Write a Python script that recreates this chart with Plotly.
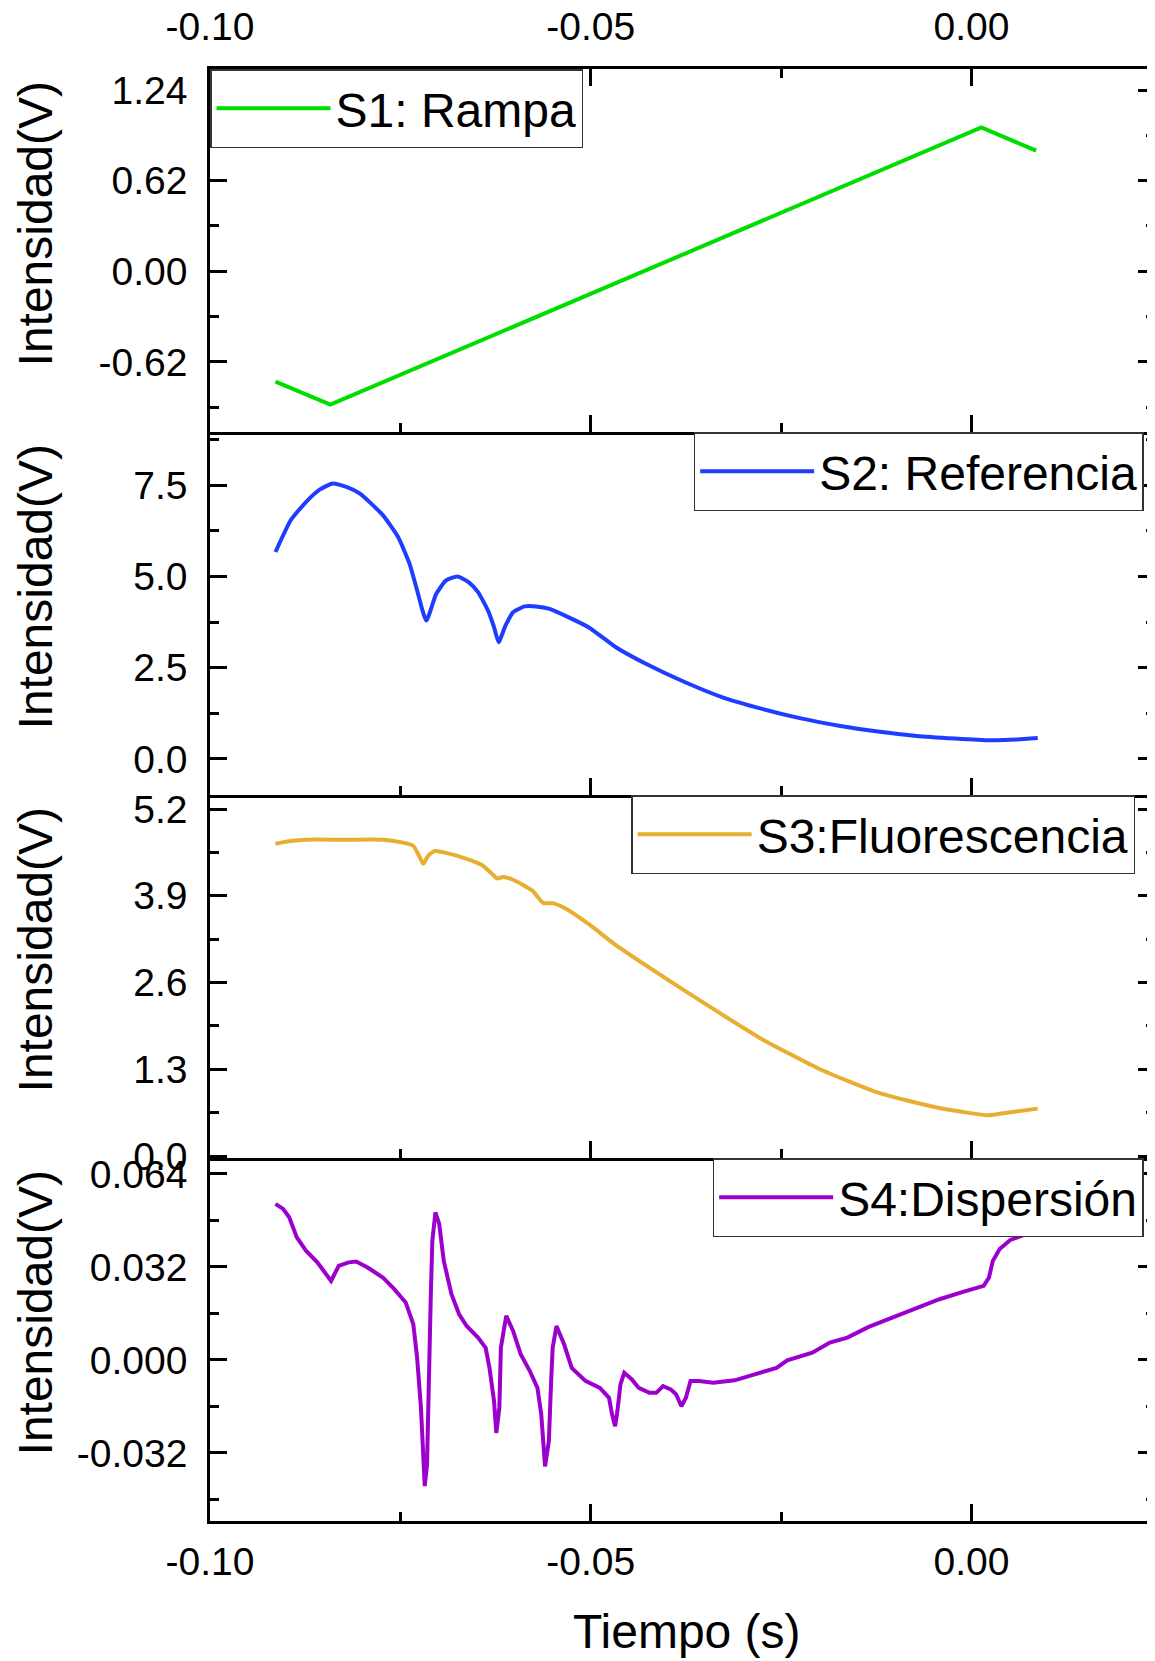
import plotly.graph_objects as go
from plotly.subplots import make_subplots

# ---------------- data ----------------
S1_T = [-0.0914, -0.0842, 0.0013, 0.0085]
S1_V = [-0.755, -0.913, 0.984, 0.825]

S2_T = [-0.0914, -0.0894, -0.0874, -0.0856, -0.0839, -0.0820, -0.0803, -0.0773, -0.0753, -0.0738,
        -0.0728, -0.0716, -0.0703, -0.0690, -0.0675, -0.0660, -0.0648, -0.0635, -0.0627, -0.0621,
        -0.0612, -0.0602, -0.0587, -0.0572, -0.0554, -0.0503, -0.0467, -0.0427, -0.0376, -0.0326,
        -0.0275, -0.0224, -0.0174, -0.0123, -0.0072, -0.0022, 0.0024, 0.0060, 0.0087]
S2_V = [5.67, 6.54, 7.04, 7.38, 7.55, 7.45, 7.27, 6.68, 6.08, 5.35,
        4.62, 3.79, 4.52, 4.89, 5.00, 4.84, 4.57, 4.07, 3.61, 3.20,
        3.65, 4.02, 4.18, 4.18, 4.11, 3.61, 3.06, 2.60, 2.10, 1.68,
        1.37, 1.11, 0.91, 0.75, 0.63, 0.56, 0.51, 0.53, 0.57]

S3_T = [-0.0914, -0.0894, -0.0874, -0.0824, -0.0773, -0.0748, -0.0733, -0.0726, -0.0720, -0.0713,
        -0.0705, -0.0693, -0.0673, -0.0643, -0.0628, -0.0623, -0.0615, -0.0602, -0.0577, -0.0562,
        -0.0550, -0.0533, -0.0502, -0.0467, -0.0412, -0.0351, -0.0275, -0.0199, -0.0123, -0.0047,
        -0.0006, 0.0021, 0.0054, 0.0087]
S3_V = [4.68, 4.72, 4.74, 4.74, 4.74, 4.70, 4.65, 4.51, 4.38, 4.51,
        4.57, 4.55, 4.49, 4.36, 4.21, 4.16, 4.18, 4.14, 3.98, 3.79,
        3.79, 3.71, 3.47, 3.16, 2.74, 2.29, 1.75, 1.30, 0.95, 0.73,
        0.65, 0.61, 0.66, 0.71]

S4_T = [-0.0914, -0.0904, -0.0896, -0.0886, -0.0874, -0.0859, -0.0841, -0.0831, -0.0818, -0.0808,
        -0.0793, -0.0773, -0.0758, -0.0743, -0.0733, -0.0728, -0.0723, -0.0721, -0.0718, -0.0715,
        -0.0713, -0.0710, -0.0708, -0.0704, -0.0699, -0.0693, -0.0683, -0.0673, -0.0663, -0.0648,
        -0.0638, -0.0633, -0.0627, -0.0624, -0.0620, -0.0618, -0.0611, -0.0602, -0.0592, -0.0580,
        -0.0570, -0.0565, -0.0560, -0.0555, -0.0552, -0.0550, -0.0545, -0.0535, -0.0525, -0.0507,
        -0.0488, -0.0476, -0.0472, -0.0468, -0.0465, -0.0461, -0.0456, -0.0446, -0.0437, -0.0423,
        -0.0414, -0.0405, -0.0395, -0.0388, -0.0381, -0.0375, -0.0369, -0.0358, -0.0339, -0.0311,
        -0.0288, -0.0256, -0.0242, -0.0209, -0.0186, -0.0163, -0.0135, -0.0103, -0.0070, -0.0042,
        -0.0009, 0.0016, 0.0023, 0.0028, 0.0037, 0.0051, 0.0070, 0.0088]
S4_V = [0.0537, 0.0520, 0.0491, 0.0422, 0.0376, 0.0336, 0.0272, 0.0324, 0.0336, 0.0339,
        0.0318, 0.0284, 0.0244, 0.0198, 0.0123, 0.0008, -0.0164, -0.0279, -0.0434, -0.0360,
        -0.0049, 0.0227, 0.0410, 0.0508, 0.0468, 0.0341, 0.0227, 0.0158, 0.0117, 0.0077,
        0.0042, -0.0027, -0.0141, -0.0251, -0.0164, 0.0042, 0.0152, 0.0100, 0.0020, -0.0038,
        -0.0096, -0.0187, -0.0366, -0.0279, -0.0072, 0.0042, 0.0117, 0.0054, -0.0027, -0.0072,
        -0.0096, -0.0130, -0.0187, -0.0228, -0.0176, -0.0084, -0.0044, -0.0067, -0.0096, -0.0113,
        -0.0113, -0.0090, -0.0101, -0.0118, -0.0159, -0.0130, -0.0072, -0.0072, -0.0078, -0.0070,
        -0.0052, -0.0027, -0.0001, 0.0025, 0.0060, 0.0077, 0.0114, 0.0146, 0.0180, 0.0209,
        0.0236, 0.0255, 0.0284, 0.0341, 0.0382, 0.0413, 0.0431, 0.0442]

NAMES = ["S1: Rampa", "S2: Referencia", "S3:Fluorescencia", "S4:Dispersión"]
COLORS = ["#00dd00", "#1f3dff", "#e8ae30", "#9b00cc"]
SHAPES = ["linear", "spline", "spline", "linear"]

X_TICKS = [-0.10, -0.05, 0.00]
X_TICKTEXT = ["-0.10", "-0.05", "0.00"]
X_MINOR = [-0.075, -0.025]
X_RANGE = [-0.10, 0.0241]

Y_TICKS = [[-0.62, 0.0, 0.62, 1.24], [0.0, 2.5, 5.0, 7.5],
           [0.0, 1.3, 2.6, 3.9, 5.2], [-0.032, 0.0, 0.032, 0.064]]
Y_TICKTEXT = [["-0.62", "0.00", "0.62", "1.24"], ["0.0", "2.5", "5.0", "7.5"],
              ["0.0", "1.3", "2.6", "3.9", "5.2"], ["-0.032", "0.000", "0.032", "0.064"]]
Y_MINOR = [[-0.93, -0.31, 0.31, 0.93], [1.25, 3.75, 6.25, 8.75],
           [0.65, 1.95, 3.25, 4.55], [-0.048, -0.016, 0.016, 0.048]]
Y_RANGES = [[-1.10, 1.384], [-0.99, 8.96], [-0.03, 5.41], [-0.0554, 0.0695]]

X_TITLE = "Tiempo (s)"
Y_TITLE = "Intensidad(V)"

# ---------------- figure ----------------
FONT = "Liberation Sans, Arial, sans-serif"
fig = make_subplots(rows=4, cols=1, shared_xaxes=True, vertical_spacing=0)

series = [(S1_T, S1_V), (S2_T, S2_V), (S3_T, S3_V), (S4_T, S4_V)]
legend_ids = ["legend", "legend2", "legend3", "legend4"]
for i, (t, v) in enumerate(series):
    line = dict(color=COLORS[i], width=4, shape=SHAPES[i])
    if SHAPES[i] == "spline":
        line["smoothing"] = 0.5
    fig.add_trace(go.Scatter(x=t, y=v, mode="lines", name=NAMES[i], line=line,
                             legend=legend_ids[i]), row=i + 1, col=1)

axis_common = dict(showline=True, linecolor="black", linewidth=2.5, automargin=False,
                   ticks="inside", ticklen=17, tickwidth=2.5, tickcolor="black",
                   showgrid=False, zeroline=False,
                   tickfont=dict(family=FONT, size=39, color="black"))

for i in range(4):
    r = i + 1
    xa = dict(axis_common, range=X_RANGE, tickmode="array", tickvals=X_TICKS,
              ticktext=X_TICKTEXT,
              minor=dict(ticks="inside", ticklen=9, tickwidth=2.5, tickcolor="black",
                         tickmode="array", tickvals=X_MINOR))
    if r == 1:
        xa.update(side="top", showticklabels=True, mirror="ticks", ticklabelstandoff=11)
    elif r == 4:
        xa.update(showticklabels=True, ticklabelstandoff=4)
    else:
        xa.update(showticklabels=False)
    fig.update_xaxes(xa, row=r, col=1)

    ya = dict(axis_common, range=Y_RANGES[i], tickmode="array", tickvals=Y_TICKS[i],
              ticktext=Y_TICKTEXT[i], mirror="ticks", ticklabelstandoff=12,
              minor=dict(ticks="inside", ticklen=9, tickwidth=2.5, tickcolor="black",
                         tickmode="array", tickvals=Y_MINOR[i]))
    fig.update_yaxes(ya, row=r, col=1)

    yref = "y domain" if r == 1 else f"y{r} domain"
    fig.add_annotation(text=Y_TITLE, textangle=-90, xref="paper", x=-0.185,
                       yref=yref, y=0.575, xanchor="center", yanchor="middle",
                       showarrow=False, font=dict(family=FONT, size=48, color="black"))

fig.add_annotation(text=X_TITLE, xref="paper", x=0.505, yref="paper", y=-0.0764,
                   xanchor="center", yanchor="middle", showarrow=False,
                   font=dict(family=FONT, size=48, color="black"))

leg_common = dict(bgcolor="white", bordercolor="#333333", borderwidth=1.5,
                  font=dict(family=FONT, size=48, color="black"), itemwidth=114,
                  yanchor="top")
# page body has an 8 px default margin, so the figure is 8 px smaller than the window
fig.update_layout(
    width=1147, height=1653,
    margin=dict(l=202, r=0, t=61, b=140),
    paper_bgcolor="white", plot_bgcolor="white",
    showlegend=True,
    legend=dict(leg_common, x=0.0, xanchor="left", y=1.0),
    legend2=dict(leg_common, x=0.988, xanchor="right", y=0.75),
    legend3=dict(leg_common, x=0.979, xanchor="right", y=0.5),
    legend4=dict(leg_common, x=0.988, xanchor="right", y=0.25),
)

fig.write_html("out.html")
